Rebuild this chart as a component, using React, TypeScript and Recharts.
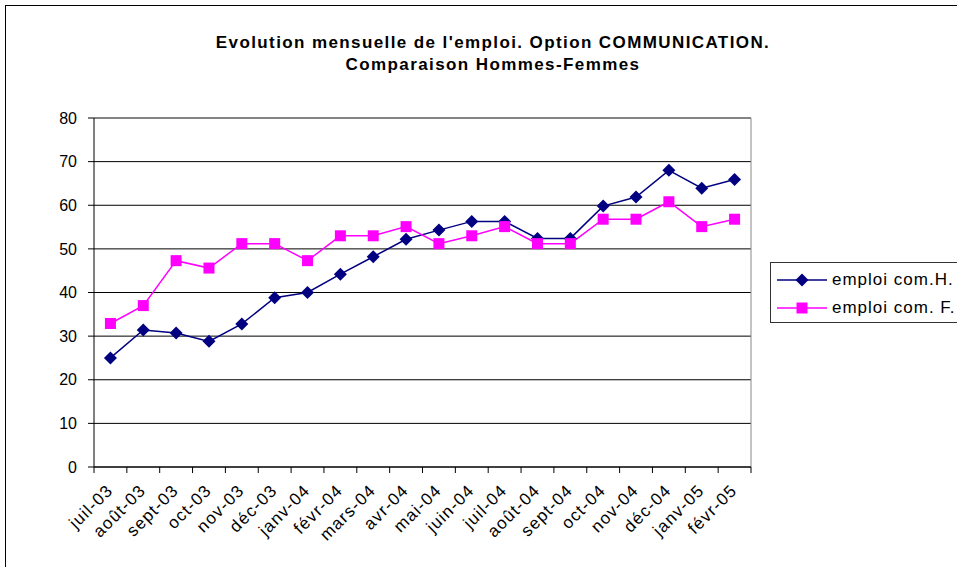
import React from "react";
import { LineChart, Line, XAxis, YAxis, CartesianGrid, ReferenceLine } from "recharts";

const months = [
  "juil-03", "août-03", "sept-03", "oct-03", "nov-03", "déc-03",
  "janv-04", "févr-04", "mars-04", "avr-04", "mai-04", "juin-04",
  "juil-04", "août-04", "sept-04", "oct-04", "nov-04", "déc-04",
  "janv-05", "févr-05",
];
const hommes = [25, 31.4, 30.7, 28.8, 32.8, 38.8, 40, 44.2, 48.2, 52.2, 54.3, 56.3, 56.3, 52.4, 52.4, 59.8, 61.9, 68, 63.9, 65.9];
const femmes = [32.9, 37, 47.3, 45.6, 51.2, 51.2, 47.3, 53, 53, 55.1, 51.2, 53, 55.1, 51.2, 51.2, 56.8, 56.8, 60.8, 55.1, 56.8];
const yTicks = [0, 10, 20, 30, 40, 50, 60, 70, 80];
const titleLines = ["Evolution mensuelle de l'emploi. Option COMMUNICATION.", "Comparaison Hommes-Femmes"];
const seriesNames = { h: "emploi com.H.", f: "emploi com. F." };

const FONT = "'Liberation Sans', Arial, sans-serif";
const NAVY = "#000080";
const MAGENTA = "#FF00FF";
const PLOT_W = 657;

// points sit in the middle of each month slot, ticks on the slot edges (Excel style)
const data = months.map((m, i) => ({ x: i + 0.5, month: m, h: hommes[i], f: femmes[i] }));
const xTicks = months.map((_, i) => i).concat(months.length);

const Diamond = (props: any) => {
  const { cx, cy } = props;
  if (cx == null || cy == null) return null;
  const r = 6.5;
  return <polygon points={`${cx},${cy - r} ${cx + r},${cy} ${cx},${cy + r} ${cx - r},${cy}`} fill={NAVY} />;
};

const Square = (props: any) => {
  const { cx, cy } = props;
  if (cx == null || cy == null) return null;
  const s = 11;
  return <rect x={cx - s / 2} y={cy - s / 2} width={s} height={s} fill={MAGENTA} />;
};

const MonthTick = (props: any) => {
  const { x, y, payload, width } = props;
  const i = payload.value;
  if (i >= months.length) return null;
  const w = typeof width === "number" && width > 0 ? width : PLOT_W;
  const tx = x + w / months.length / 2 - 5;
  const ty = y + 8;
  return (
    <text x={tx} y={ty} dy="0.71em" transform={`rotate(-45 ${tx} ${ty})`} textAnchor="end" fontSize={17} letterSpacing={1.2} fontFamily={FONT} fill="#000">
      {months[i]}
    </text>
  );
};

const legendItems = [
  { name: seriesNames.h, color: NAVY, marker: "d" },
  { name: seriesNames.f, color: MAGENTA, marker: "s" },
];

const LegendBox = () => (
  <div style={{ position: "absolute", left: 770, top: 262, border: "1px solid #333", background: "#fff", width: 220, height: 61, fontFamily: FONT, fontSize: 17, letterSpacing: 1, color: "#000", boxSizing: "border-box", padding: "3px 0 0 6px" }}>
    {legendItems.map((it) => (
      <div key={it.name} style={{ display: "flex", alignItems: "center", height: 28 }}>
        <svg width={50} height={14} style={{ marginRight: 5 }}>
          <line x1={0} y1={7} x2={50} y2={7} stroke={it.color} strokeWidth={1.5} />
          {it.marker === "d" ? (
            <polygon points="25,0.5 31.5,7 25,13.5 18.5,7" fill={it.color} />
          ) : (
            <rect x={19.5} y={1.5} width={11} height={11} fill={it.color} />
          )}
        </svg>
        <span style={{ whiteSpace: "nowrap" }}>{it.name}</span>
      </div>
    ))}
  </div>
);

export default function App() {
  return (
    <div style={{ position: "absolute", left: 0, top: 0, width: 957, height: 567, overflow: "hidden", background: "#fff" }}>
      <div style={{ position: "absolute", left: 5, top: 5, width: 1200, height: 800, border: "1px solid #000" }} />
      <div style={{ position: "absolute", left: 93, top: 32, width: 800, textAlign: "center", fontFamily: FONT, fontWeight: "bold", fontSize: 17, letterSpacing: 1.4, lineHeight: "22px", color: "#000" }}>
        {titleLines.map((t) => (
          <div key={t}>{t}</div>
        ))}
      </div>
      <div style={{ position: "absolute", left: 0, top: 0 }}>
        <LineChart width={957} height={567} data={data} margin={{ top: 118, right: 206, bottom: 0, left: 0 }}>
          <CartesianGrid horizontal vertical={false} stroke="#000" strokeWidth={1} />
          <XAxis
            dataKey="x"
            type="number"
            domain={[0, months.length]}
            ticks={xTicks}
            interval={0}
            height={100}
            axisLine={{ stroke: "#000" }}
            tickLine={{ stroke: "#000" }}
            tickSize={6}
            tick={<MonthTick />}
          />
          <YAxis
            type="number"
            domain={[0, 80]}
            ticks={yTicks}
            interval={0}
            width={94}
            axisLine={{ stroke: "#000" }}
            tickLine={{ stroke: "#000" }}
            tickSize={6}
            tickMargin={11}
            tick={{ fill: "#000", fontSize: 16, fontFamily: FONT }}
          />
          <ReferenceLine y={80} stroke="#888" strokeWidth={1} />
          <ReferenceLine x={months.length} stroke="#888" strokeWidth={1} />
          <Line dataKey="h" name={seriesNames.h} stroke={NAVY} strokeWidth={1.5} dot={<Diamond />} isAnimationActive={false} />
          <Line dataKey="f" name={seriesNames.f} stroke={MAGENTA} strokeWidth={1.5} dot={<Square />} isAnimationActive={false} />
        </LineChart>
      </div>
      <LegendBox />
    </div>
  );
}
